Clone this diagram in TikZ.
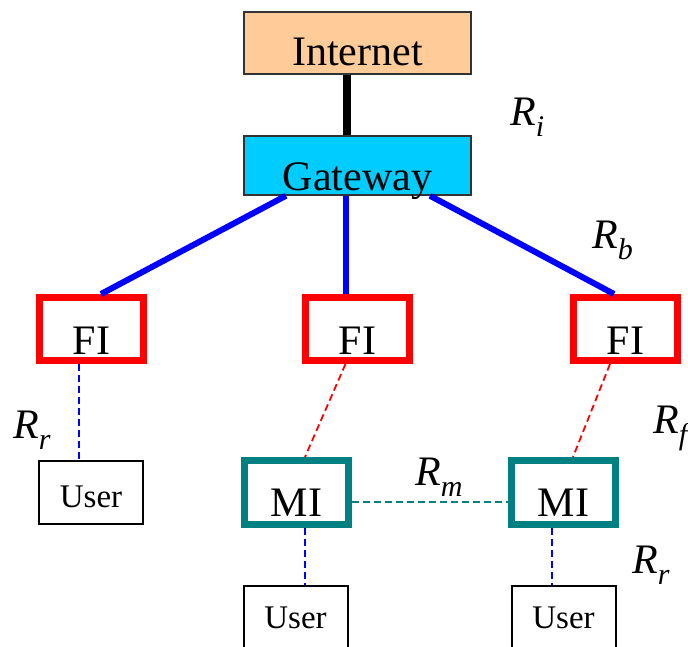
\documentclass[tikz,border=0pt]{standalone}
\usepackage{fontspec}
\setmainfont{Liberation Serif}
\definecolor{peach}{HTML}{FFCC99}
\definecolor{gwcyan}{HTML}{00CCFF}
\definecolor{teal2}{HTML}{008080}
\definecolor{blue2}{HTML}{0000FF}
\definecolor{red2}{HTML}{FF0000}
\newcommand{\Rlab}[1]{\textit{R}\raisebox{-0.28em}{\fontsize{30}{30}\selectfont\textit{#1}}}
\begin{document}
\begin{tikzpicture}[x=1pt,y=-1pt,
  big/.style={font=\fontsize{42}{42}\selectfont},
  small/.style={font=\fontsize{33}{33}\selectfont},
  topbox/.style={draw=black!80,line width=1.5pt,minimum width=227pt,inner sep=0pt,big,text depth=0pt},
  fibox/.style={draw=red2,line width=7pt,minimum width=104pt,minimum height=63pt,inner sep=0pt,big,text height=50pt,text depth=0pt},
  mibox/.style={draw=teal2,line width=7pt,minimum width=104pt,minimum height=64pt,inner sep=0pt,big,text height=48pt,text depth=0pt},
  userbox/.style={draw=black,line width=2pt,minimum width=104pt,inner sep=0pt,small,text depth=0pt},
  lab/.style={anchor=base west,inner sep=0pt,big},
  thickblue/.style={draw=blue2,line width=6pt},
  dsh/.style={line width=1.8pt,dash pattern=on 7pt off 4pt}
]
\useasboundingbox (0,0) rectangle (688,646);
\clip (0,0) rectangle (688,646);
% top boxes
\node[topbox,fill=peach,minimum height=62pt,text height=44pt] (inet) at (357.5,43) {Internet};
\node[topbox,fill=gwcyan,minimum height=59pt,text height=49pt] (gw) at (357.5,165.5) {Gateway};
\draw[line width=8pt,black] ([xshift=-11]inet.south) -- ([xshift=-11]gw.north);
% FI boxes
\node[fibox] (fi1) at (91.5,329) {FI};
\node[fibox] (fi2) at (357.5,329) {FI};
\node[fibox] (fi3) at (625.5,329) {FI};
\draw[thickblue] ([xshift=-71.5]gw.south) -- ([xshift=9.5]fi1.north);
\draw[thickblue] ([xshift=-11.5]gw.south) -- ([xshift=-11.5]fi2.north);
\draw[thickblue] ([xshift=72.5]gw.south) -- ([xshift=-11.5]fi3.north);
% MI and users
\node[userbox,minimum height=63pt,text height=29pt] (u1) at (91,492.5) {User};
\node[mibox] (mi1) at (296.5,492.5) {MI};
\node[mibox] (mi2) at (563.5,492.5) {MI};
\node[userbox,minimum height=80pt,text height=4pt] (u2) at (295.5,626) {User};
\node[userbox,minimum height=80pt,text height=4pt] (u3) at (563.5,626) {User};
% dashed links
\draw[dsh,blue2] ([xshift=-12.5]fi1.south) -- ([xshift=-12]u1.north);
\draw[dsh,red2] ([xshift=-12]fi2.south) -- ([xshift=8.5]mi1.north);
\draw[dsh,red2] ([xshift=-15.5]fi3.south) -- ([xshift=9.5]mi2.north);
\draw[dsh,teal2] ([yshift=-9.5]mi1.east) -- ([yshift=-9.5]mi2.west);
\draw[dsh,blue2] ([xshift=8.5]mi1.south) -- ([xshift=9.5]u2.north);
\draw[dsh,blue2] ([xshift=-11.5]mi2.south) -- ([xshift=-11.5]u3.north);
% labels
\node[lab] (ri) at (510,125) {\Rlab{i}};
\node[lab] (rb) at (592,248) {\Rlab{b}};
\node[lab] (rr1) at (13,438) {\Rlab{r}};
\node[lab] (rf) at (653,433) {\Rlab{f}};
\node[lab] (rm) at (415,485) {\Rlab{m}};
\node[lab] (rr2) at (632,573) {\Rlab{r}};
\end{tikzpicture}
\end{document}
